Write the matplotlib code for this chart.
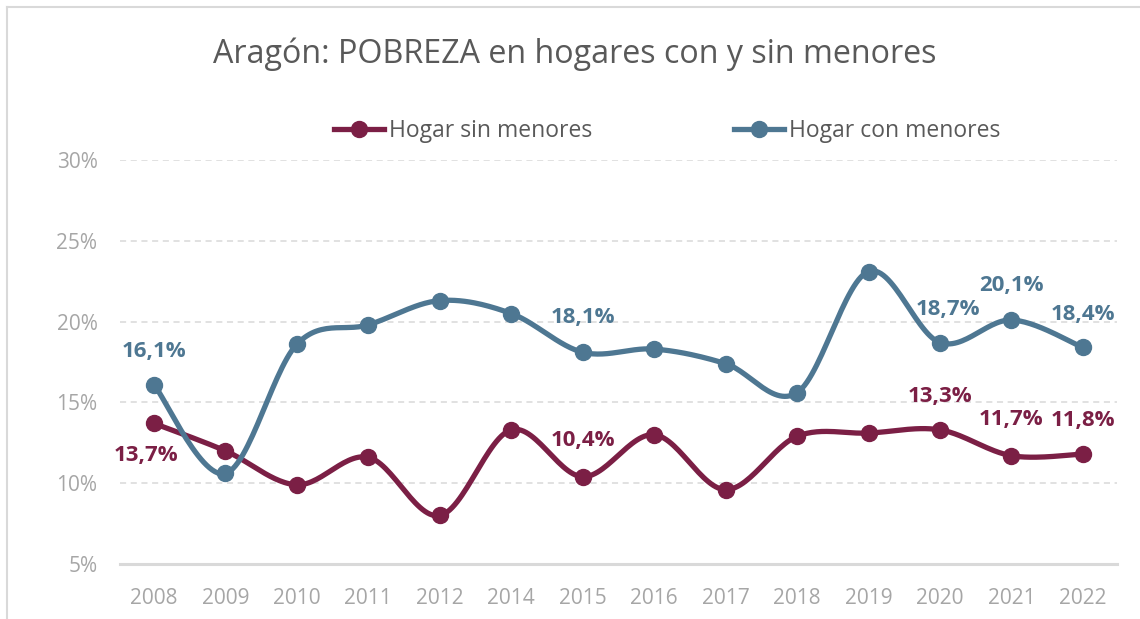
import numpy as np
import matplotlib
matplotlib.use("Agg")
import matplotlib.pyplot as plt
from matplotlib.lines import Line2D

plt.rcParams["font.family"] = ["Open Sans", "DejaVu Sans"]

# --- data ---------------------------------------------------------------------
years = ["2008", "2009", "2010", "2011", "2012", "2014", "2015",
         "2016", "2017", "2018", "2019", "2020", "2021", "2022"]
sin_menores = [13.7, 12.0, 9.9, 11.6, 8.0, 13.3, 10.4,
               13.0, 9.6, 12.9, 13.1, 13.3, 11.7, 11.8]
con_menores = [16.1, 10.6, 18.6, 19.8, 21.3, 20.5, 18.1,
               18.3, 17.4, 15.6, 23.1, 18.7, 20.1, 18.4]

# which points carry a value label, and (dx, dy) offset in points
sin_labels = {"2008": (-6, -23), "2015": (0, 26), "2020": (0, 24),
              "2021": (0, 26), "2022": (0, 24)}
con_labels = {"2008": (0, 24), "2015": (0, 25), "2020": (6, 24),
              "2021": (0, 25), "2022": (0, 24)}

RED = "#7B1F45"
BLUE = "#4E7792"
GRID = "#D9D9D9"
TICK = "#A6A6A6"
TEXT = "#595959"


def smooth(xs, ys, n=30):
    # Bezier smoothing similar to a spreadsheet "smoothed line"
    p = np.column_stack([xs, ys]).astype(float)
    pts = []
    for i in range(len(p) - 1):
        p0 = p[i - 1] if i > 0 else p[i]
        p3 = p[i + 2] if i + 2 < len(p) else p[i + 1]
        c1 = p[i] + (p[i + 1] - p0) / 6.0
        c2 = p[i + 1] - (p3 - p[i]) / 6.0
        t = np.linspace(0, 1, n)[:, None]
        seg = ((1 - t) ** 3 * p[i] + 3 * (1 - t) ** 2 * t * c1
               + 3 * (1 - t) * t ** 2 * c2 + t ** 3 * p[i + 1])
        pts.append(seg if i == 0 else seg[1:])
    pts = np.vstack(pts)
    return pts[:, 0], pts[:, 1]


def fmt(v):
    return f"{v:.1f}".replace(".", ",") + "%"


fig = plt.figure(figsize=(11.4, 6.19), dpi=100)
ax = fig.add_axes([0.105, 0.0889, 0.875, 0.6526])

x = np.arange(len(years))
for vals, col in ((sin_menores, RED), (con_menores, BLUE)):
    sx, sy = smooth(x, vals)
    ax.plot(sx, sy, color=col, lw=3.8, solid_capstyle="round", zorder=3)
    ax.plot(x, vals, "o", color=col, ms=11.5, zorder=4)

for vals, labs, col in ((sin_menores, sin_labels, RED), (con_menores, con_labels, BLUE)):
    for yr, (dx, dy) in labs.items():
        i = years.index(yr)
        ax.annotate(fmt(vals[i]), (x[i], vals[i]), xytext=(dx, dy),
                    textcoords="offset points", ha="center", va="center",
                    fontsize=16, fontweight="bold", color=col, zorder=5)

ax.set_xlim(-0.48, 13.48)
ax.set_ylim(5, 30)
ax.set_yticks([5, 10, 15, 20, 25, 30])
ax.set_yticklabels([f"{v}%" for v in [5, 10, 15, 20, 25, 30]])
ax.set_xticks(x)
ax.set_xticklabels(years)
ax.tick_params(length=0, labelsize=15, colors=TICK)
ax.tick_params(axis="x", pad=17)
ax.tick_params(axis="y", pad=16)
for t in ax.get_yticklabels() + ax.get_xticklabels():
    t.set_color(TICK)

for v in [10, 15, 20, 25, 30]:
    ax.axhline(v, color=GRID, lw=1.1, ls=(0, (4, 3)), zorder=1)
for s in ["top", "right", "left"]:
    ax.spines[s].set_visible(False)
ax.spines["bottom"].set_color(GRID)
ax.spines["bottom"].set_linewidth(2.2)

fig.text(0.504, 0.912, "Aragón: POBREZA en hogares con y sin menores",
         ha="center", va="center", fontsize=23.2, color=TEXT)

handles = [Line2D([], [], color=RED, lw=3.8, marker="o", ms=11.5),
           Line2D([], [], color=BLUE, lw=3.8, marker="o", ms=11.5)]
fig.legend(handles, ["Hogar sin menores", "Hogar con menores"],
           loc="center", bbox_to_anchor=(0.585, 0.788), ncol=2, frameon=False,
           fontsize=16.5, labelcolor=TEXT, handlelength=2.2, handletextpad=0.2,
           columnspacing=6.2)

# chart border (top and left edges visible)
fig.add_artist(Line2D([7 / 1140, 1.0], [1 - 7 / 619] * 2, color=GRID, lw=1.5,
                      transform=fig.transFigure))
fig.add_artist(Line2D([7 / 1140] * 2, [0, 1 - 7 / 619], color=GRID, lw=1.5,
                      transform=fig.transFigure))

fig.savefig("out.png", dpi=100)
